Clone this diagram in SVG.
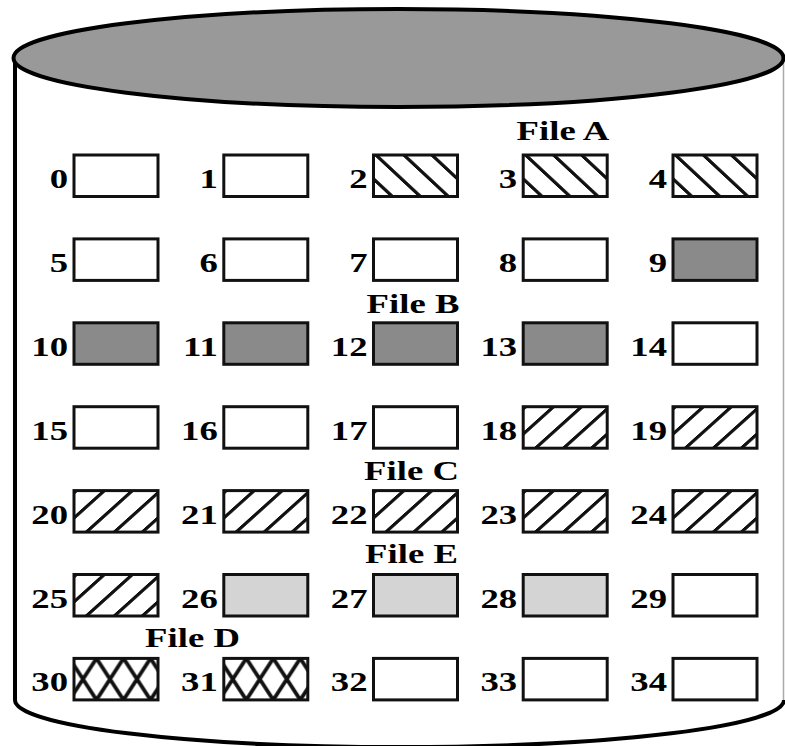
<svg xmlns="http://www.w3.org/2000/svg" width="785" height="746" viewBox="0 0 785 746">
<style>
.lbl{font-family:"Liberation Serif","Times New Roman",serif;font-weight:bold;font-size:27px;fill:#000}
.num{text-anchor:end}
.file{text-anchor:middle}
.box{stroke:#111;stroke-width:3}
.w{fill:#fff}
.b{fill:#8a8a8a}
.e{fill:#d4d4d4}
</style>
<defs>
<pattern id="hatchA" patternUnits="userSpaceOnUse" width="28" height="28" patternTransform="skewX(47)"><rect x="0" y="0" width="4.8" height="28" fill="#111"/></pattern>
<pattern id="hatchC" patternUnits="userSpaceOnUse" width="28" height="28" patternTransform="skewX(-48)"><rect x="0" y="0" width="4.8" height="28" fill="#111"/></pattern>
<pattern id="cross" patternUnits="userSpaceOnUse" x="22.5" y="0" width="27" height="41.5"><path d="M-27,-41.5 L54,83 M0,-41.5 L81,83 M-54,-41.5 L27,83 M54,-41.5 L-27,83 M27,-41.5 L-54,83 M81,-41.5 L0,83" stroke="#111" stroke-width="3.8" fill="none"/></pattern>
</defs>
<g id="cylinder">
<path d="M15,58 L15,700 A384,47 0 0 0 784,700" fill="none" stroke="#000" stroke-width="4"/>
<line x1="783.5" y1="60" x2="783.5" y2="700" stroke="#aaa" stroke-width="1.5"/>
<ellipse cx="398.5" cy="58" rx="385" ry="49" fill="#999" stroke="#000" stroke-width="4"/>
</g>
<g id="blocks">
<g id="block-0" transform="translate(74,155)"><rect class="box w" width="84" height="41.5"/><text class="lbl num" transform="matrix(1.36 0 0 1 -6 33)">0</text></g>
<g id="block-1" transform="translate(223.8,155)"><rect class="box w" width="84" height="41.5"/><text class="lbl num" transform="matrix(1.36 0 0 1 -6 33)">1</text></g>
<g id="block-2" transform="translate(373.5,155)"><rect class="w" width="84" height="41.5"/><rect class="box" fill="url(#hatchA)" width="84" height="41.5"/><text class="lbl num" transform="matrix(1.36 0 0 1 -6 33)">2</text></g>
<g id="block-3" transform="translate(523.2,155)"><rect class="w" width="84" height="41.5"/><rect class="box" fill="url(#hatchA)" width="84" height="41.5"/><text class="lbl num" transform="matrix(1.36 0 0 1 -6 33)">3</text></g>
<g id="block-4" transform="translate(673,155)"><rect class="w" width="84" height="41.5"/><rect class="box" fill="url(#hatchA)" width="84" height="41.5"/><text class="lbl num" transform="matrix(1.36 0 0 1 -6 33)">4</text></g>

<g id="block-5" transform="translate(74,238.9)"><rect class="box w" width="84" height="41.5"/><text class="lbl num" transform="matrix(1.36 0 0 1 -6 33)">5</text></g>
<g id="block-6" transform="translate(223.8,238.9)"><rect class="box w" width="84" height="41.5"/><text class="lbl num" transform="matrix(1.36 0 0 1 -6 33)">6</text></g>
<g id="block-7" transform="translate(373.5,238.9)"><rect class="box w" width="84" height="41.5"/><text class="lbl num" transform="matrix(1.36 0 0 1 -6 33)">7</text></g>
<g id="block-8" transform="translate(523.2,238.9)"><rect class="box w" width="84" height="41.5"/><text class="lbl num" transform="matrix(1.36 0 0 1 -6 33)">8</text></g>
<g id="block-9" transform="translate(673,238.9)"><rect class="box b" width="84" height="41.5"/><text class="lbl num" transform="matrix(1.36 0 0 1 -6 33)">9</text></g>

<g id="block-10" transform="translate(74,322.8)"><rect class="box b" width="84" height="41.5"/><text class="lbl num" transform="matrix(1.36 0 0 1 -6 33)">10</text></g>
<g id="block-11" transform="translate(223.8,322.8)"><rect class="box b" width="84" height="41.5"/><text class="lbl num" transform="matrix(1.36 0 0 1 -6 33)">11</text></g>
<g id="block-12" transform="translate(373.5,322.8)"><rect class="box b" width="84" height="41.5"/><text class="lbl num" transform="matrix(1.36 0 0 1 -6 33)">12</text></g>
<g id="block-13" transform="translate(523.2,322.8)"><rect class="box b" width="84" height="41.5"/><text class="lbl num" transform="matrix(1.36 0 0 1 -6 33)">13</text></g>
<g id="block-14" transform="translate(673,322.8)"><rect class="box w" width="84" height="41.5"/><text class="lbl num" transform="matrix(1.36 0 0 1 -6 33)">14</text></g>

<g id="block-15" transform="translate(74,406.7)"><rect class="box w" width="84" height="41.5"/><text class="lbl num" transform="matrix(1.36 0 0 1 -6 33)">15</text></g>
<g id="block-16" transform="translate(223.8,406.7)"><rect class="box w" width="84" height="41.5"/><text class="lbl num" transform="matrix(1.36 0 0 1 -6 33)">16</text></g>
<g id="block-17" transform="translate(373.5,406.7)"><rect class="box w" width="84" height="41.5"/><text class="lbl num" transform="matrix(1.36 0 0 1 -6 33)">17</text></g>
<g id="block-18" transform="translate(523.2,406.7)"><rect class="w" width="84" height="41.5"/><rect class="box" fill="url(#hatchC)" width="84" height="41.5"/><text class="lbl num" transform="matrix(1.36 0 0 1 -6 33)">18</text></g>
<g id="block-19" transform="translate(673,406.7)"><rect class="w" width="84" height="41.5"/><rect class="box" fill="url(#hatchC)" width="84" height="41.5"/><text class="lbl num" transform="matrix(1.36 0 0 1 -6 33)">19</text></g>

<g id="block-20" transform="translate(74,490.6)"><rect class="w" width="84" height="41.5"/><rect class="box" fill="url(#hatchC)" width="84" height="41.5"/><text class="lbl num" transform="matrix(1.36 0 0 1 -6 33)">20</text></g>
<g id="block-21" transform="translate(223.8,490.6)"><rect class="w" width="84" height="41.5"/><rect class="box" fill="url(#hatchC)" width="84" height="41.5"/><text class="lbl num" transform="matrix(1.36 0 0 1 -6 33)">21</text></g>
<g id="block-22" transform="translate(373.5,490.6)"><rect class="w" width="84" height="41.5"/><rect class="box" fill="url(#hatchC)" width="84" height="41.5"/><text class="lbl num" transform="matrix(1.36 0 0 1 -6 33)">22</text></g>
<g id="block-23" transform="translate(523.2,490.6)"><rect class="w" width="84" height="41.5"/><rect class="box" fill="url(#hatchC)" width="84" height="41.5"/><text class="lbl num" transform="matrix(1.36 0 0 1 -6 33)">23</text></g>
<g id="block-24" transform="translate(673,490.6)"><rect class="w" width="84" height="41.5"/><rect class="box" fill="url(#hatchC)" width="84" height="41.5"/><text class="lbl num" transform="matrix(1.36 0 0 1 -6 33)">24</text></g>

<g id="block-25" transform="translate(74,574.5)"><rect class="w" width="84" height="41.5"/><rect class="box" fill="url(#hatchC)" width="84" height="41.5"/><text class="lbl num" transform="matrix(1.36 0 0 1 -6 33)">25</text></g>
<g id="block-26" transform="translate(223.8,574.5)"><rect class="box e" width="84" height="41.5"/><text class="lbl num" transform="matrix(1.36 0 0 1 -6 33)">26</text></g>
<g id="block-27" transform="translate(373.5,574.5)"><rect class="box e" width="84" height="41.5"/><text class="lbl num" transform="matrix(1.36 0 0 1 -6 33)">27</text></g>
<g id="block-28" transform="translate(523.2,574.5)"><rect class="box e" width="84" height="41.5"/><text class="lbl num" transform="matrix(1.36 0 0 1 -6 33)">28</text></g>
<g id="block-29" transform="translate(673,574.5)"><rect class="box w" width="84" height="41.5"/><text class="lbl num" transform="matrix(1.36 0 0 1 -6 33)">29</text></g>

<g id="block-30" transform="translate(74,658.4)"><rect class="w" width="84" height="41.5"/><rect class="box" fill="url(#cross)" width="84" height="41.5"/><text class="lbl num" transform="matrix(1.36 0 0 1 -6 33)">30</text></g>
<g id="block-31" transform="translate(223.8,658.4)"><rect class="w" width="84" height="41.5"/><rect class="box" fill="url(#cross)" width="84" height="41.5"/><text class="lbl num" transform="matrix(1.36 0 0 1 -6 33)">31</text></g>
<g id="block-32" transform="translate(373.5,658.4)"><rect class="box w" width="84" height="41.5"/><text class="lbl num" transform="matrix(1.36 0 0 1 -6 33)">32</text></g>
<g id="block-33" transform="translate(523.2,658.4)"><rect class="box w" width="84" height="41.5"/><text class="lbl num" transform="matrix(1.36 0 0 1 -6 33)">33</text></g>
<g id="block-34" transform="translate(673,658.4)"><rect class="box w" width="84" height="41.5"/><text class="lbl num" transform="matrix(1.36 0 0 1 -6 33)">34</text></g>
</g>
<g id="file-labels">
<text id="file-a" class="lbl file" transform="matrix(1.36 0 0 1 563 140)">File A</text>
<text id="file-b" class="lbl file" transform="matrix(1.36 0 0 1 413 313)">File B</text>
<text id="file-c" class="lbl file" transform="matrix(1.36 0 0 1 411.5 480)">File C</text>
<text id="file-e" class="lbl file" transform="matrix(1.36 0 0 1 411.5 563)">File E</text>
<text id="file-d" class="lbl file" transform="matrix(1.36 0 0 1 192.5 647)">File D</text>
</g>
</svg>
